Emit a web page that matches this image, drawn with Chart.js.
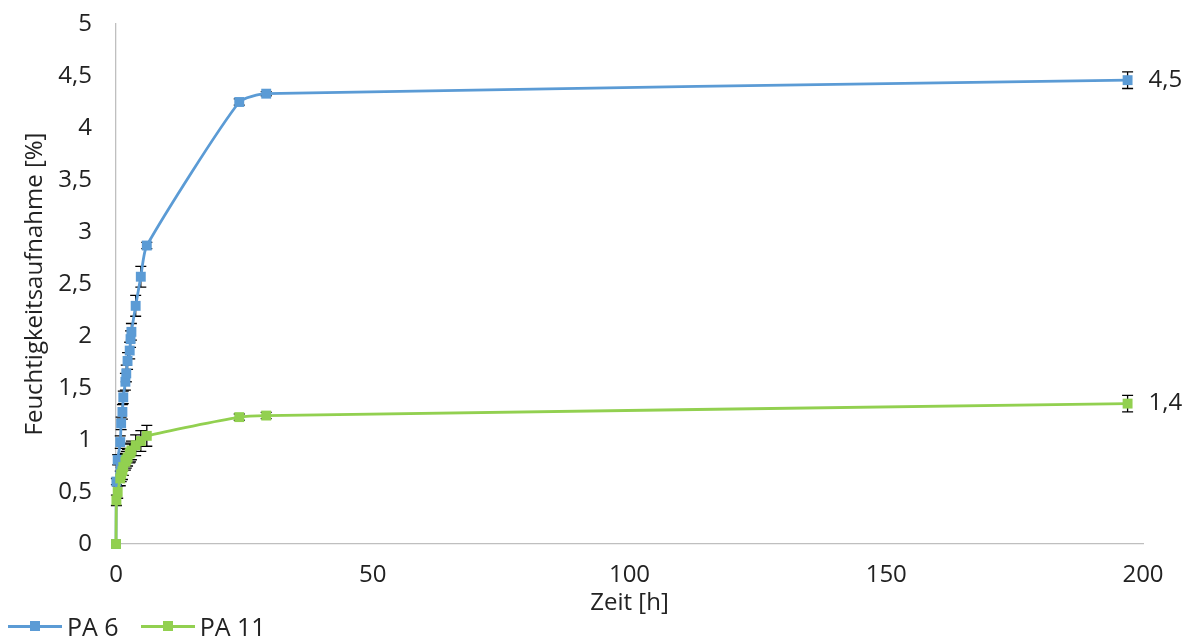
<!DOCTYPE html>
<html>
<head>
<meta charset="utf-8">
<script src="https://cdn.jsdelivr.net/npm/chart.js@4.4.0/dist/chart.umd.min.js"></script>
<style>
    body { margin: 0; background: #ffffff; }
    #wrap { position: relative; width: 1188px; height: 636px; }
    #legend {
        position: absolute; left: 8px; top: 609px;
        font-family: "Open Sans", sans-serif; font-size: 25px; color: #222;
        display: flex; align-items: center; white-space: nowrap;
    }
    .item { display: flex; align-items: center; margin-right: 22px; }
    .swatch { position: relative; width: 54px; height: 3px; margin-right: 5px; }
    .swatch span { position: absolute; left: 22px; top: -4px; width: 10px; height: 10px; }
</style>
</head>
<body>
<div id="wrap">
    <canvas id="chart" width="1188" height="636"></canvas>
    <div id="legend">
        <div class="item"><div class="swatch" style="background:#5b9bd5"><span style="background:#5b9bd5"></span></div>PA 6</div>
        <div class="item"><div class="swatch" style="background:#92d050"><span style="background:#92d050"></span></div>PA 11</div>
    </div>
</div>
<script>
// Zeit [h]
const times = [0, 0.08, 0.33, 0.83, 1, 1.25, 1.42, 1.83, 2, 2.25, 2.67, 2.83, 3, 3.83, 4.83, 6, 24, 29.25, 197];

// Feuchtigkeitsaufnahme [%]
const pa6Values = [0, 0.6, 0.81, 0.98, 1.16, 1.27, 1.41, 1.56, 1.64, 1.76, 1.86, 1.97, 2.04, 2.29, 2.57, 2.87, 4.25, 4.33, 4.46];
const pa6Errors = [0, 0.03, 0.05, 0.06, 0.06, 0.07, 0.06, 0.08, 0.08, 0.08, 0.08, 0.08, 0.08, 0.1, 0.1, 0.03, 0.03, 0.02, 0.08];

const pa11Values = [0, 0.42, 0.5, 0.63, 0.67, 0.7, 0.74, 0.79, 0.81, 0.83, 0.87, 0.88, 0.9, 0.95, 0.99, 1.04, 1.22, 1.235, 1.35];
const pa11Errors = [0, 0.05, 0.06, 0.07, 0.07, 0.08, 0.08, 0.08, 0.08, 0.08, 0.09, 0.09, 0.09, 0.1, 0.1, 0.1, 0.03, 0.03, 0.08];

const endLabels = ['4,5', '1,4'];

const textColor = '#222222';
const fontFamily = '"Open Sans", sans-serif';

function toPoints(values) {
    return times.map((t, i) => ({ x: t, y: values[i] }));
}

// error bars, drawn under the markers
const errorBars = {
    id: 'errorBars',
    beforeDatasetsDraw(chart) {
        const ctx = chart.ctx;
        const y = chart.scales.y;
        ctx.save();
        ctx.strokeStyle = '#000000';
        ctx.lineWidth = 1.3;
        chart.data.datasets.forEach((ds, di) => {
            const meta = chart.getDatasetMeta(di);
            meta.data.forEach((pt, i) => {
                const err = ds.errors[i];
                if (!err) return;
                const top = y.getPixelForValue(ds.data[i].y + err);
                const bottom = y.getPixelForValue(ds.data[i].y - err);
                ctx.beginPath();
                ctx.moveTo(pt.x, top);
                ctx.lineTo(pt.x, bottom);
                ctx.moveTo(pt.x - 5.5, top);
                ctx.lineTo(pt.x + 5.5, top);
                ctx.moveTo(pt.x - 5.5, bottom);
                ctx.lineTo(pt.x + 5.5, bottom);
                ctx.stroke();
            });
        });
        ctx.restore();
    }
};

// value label next to the last point
const endValueLabels = {
    id: 'endValueLabels',
    afterDatasetsDraw(chart) {
        const ctx = chart.ctx;
        ctx.save();
        ctx.fillStyle = textColor;
        ctx.font = '24px ' + fontFamily;
        ctx.textAlign = 'left';
        ctx.textBaseline = 'middle';
        chart.data.datasets.forEach((ds, di) => {
            const meta = chart.getDatasetMeta(di);
            const last = meta.data[meta.data.length - 1];
            ctx.fillText(endLabels[di], last.x + 21, last.y);
        });
        ctx.restore();
    }
};

new Chart(document.getElementById('chart'), {
    type: 'line',
    data: {
        datasets: [
            {
                label: 'PA 6',
                data: toPoints(pa6Values),
                errors: pa6Errors,
                order: 1,
                clip: false,
                borderColor: '#5b9bd5',
                backgroundColor: '#5b9bd5',
                borderWidth: 2.8,
                tension: 0.2,
                pointStyle: 'rect',
                pointRadius: 7,
                pointBorderWidth: 0
            },
            {
                label: 'PA 11',
                data: toPoints(pa11Values),
                errors: pa11Errors,
                order: 0,
                clip: false,
                borderColor: '#92d050',
                backgroundColor: '#92d050',
                borderWidth: 2.8,
                tension: 0.2,
                pointStyle: 'rect',
                pointRadius: 7,
                pointBorderWidth: 0
            }
        ]
    },
    options: {
        responsive: false,
        animation: false,
        layout: {
            padding: { top: 24, right: 45, bottom: 0, left: 0 }
        },
        plugins: {
            legend: { display: false },
            tooltip: { enabled: false }
        },
        scales: {
            x: {
                type: 'linear',
                min: 0,
                max: 200,
                afterFit: (scale) => { scale.height = 92; },
                grid: { display: false, drawTicks: false },
                border: { display: true, color: '#bfbfbf', width: 1.3 },
                ticks: {
                    stepSize: 50,
                    padding: 17,
                    color: textColor,
                    font: { family: fontFamily, size: 24 }
                },
                title: {
                    display: true,
                    text: 'Zeit [h]',
                    color: textColor,
                    padding: { top: 0, bottom: 18 },
                    font: { family: fontFamily, size: 24 }
                }
            },
            y: {
                min: 0,
                max: 5,
                afterFit: (scale) => {
                    scale.width = 116;
                    scale.paddingTop = 0;
                    scale.paddingBottom = 0;
                },
                grid: { display: false, drawTicks: false },
                border: { display: true, color: '#bfbfbf', width: 1.3 },
                ticks: {
                    stepSize: 0.5,
                    padding: 24,
                    color: textColor,
                    font: { family: fontFamily, size: 24 },
                    callback: (value) => String(value).replace('.', ',')
                },
                title: {
                    display: true,
                    text: 'Feuchtigkeitsaufnahme [%]',
                    color: textColor,
                    padding: { top: 21, bottom: 0 },
                    font: { family: fontFamily, size: 24 }
                }
            }
        }
    },
    plugins: [errorBars, endValueLabels]
});
</script>
</body>
</html>
